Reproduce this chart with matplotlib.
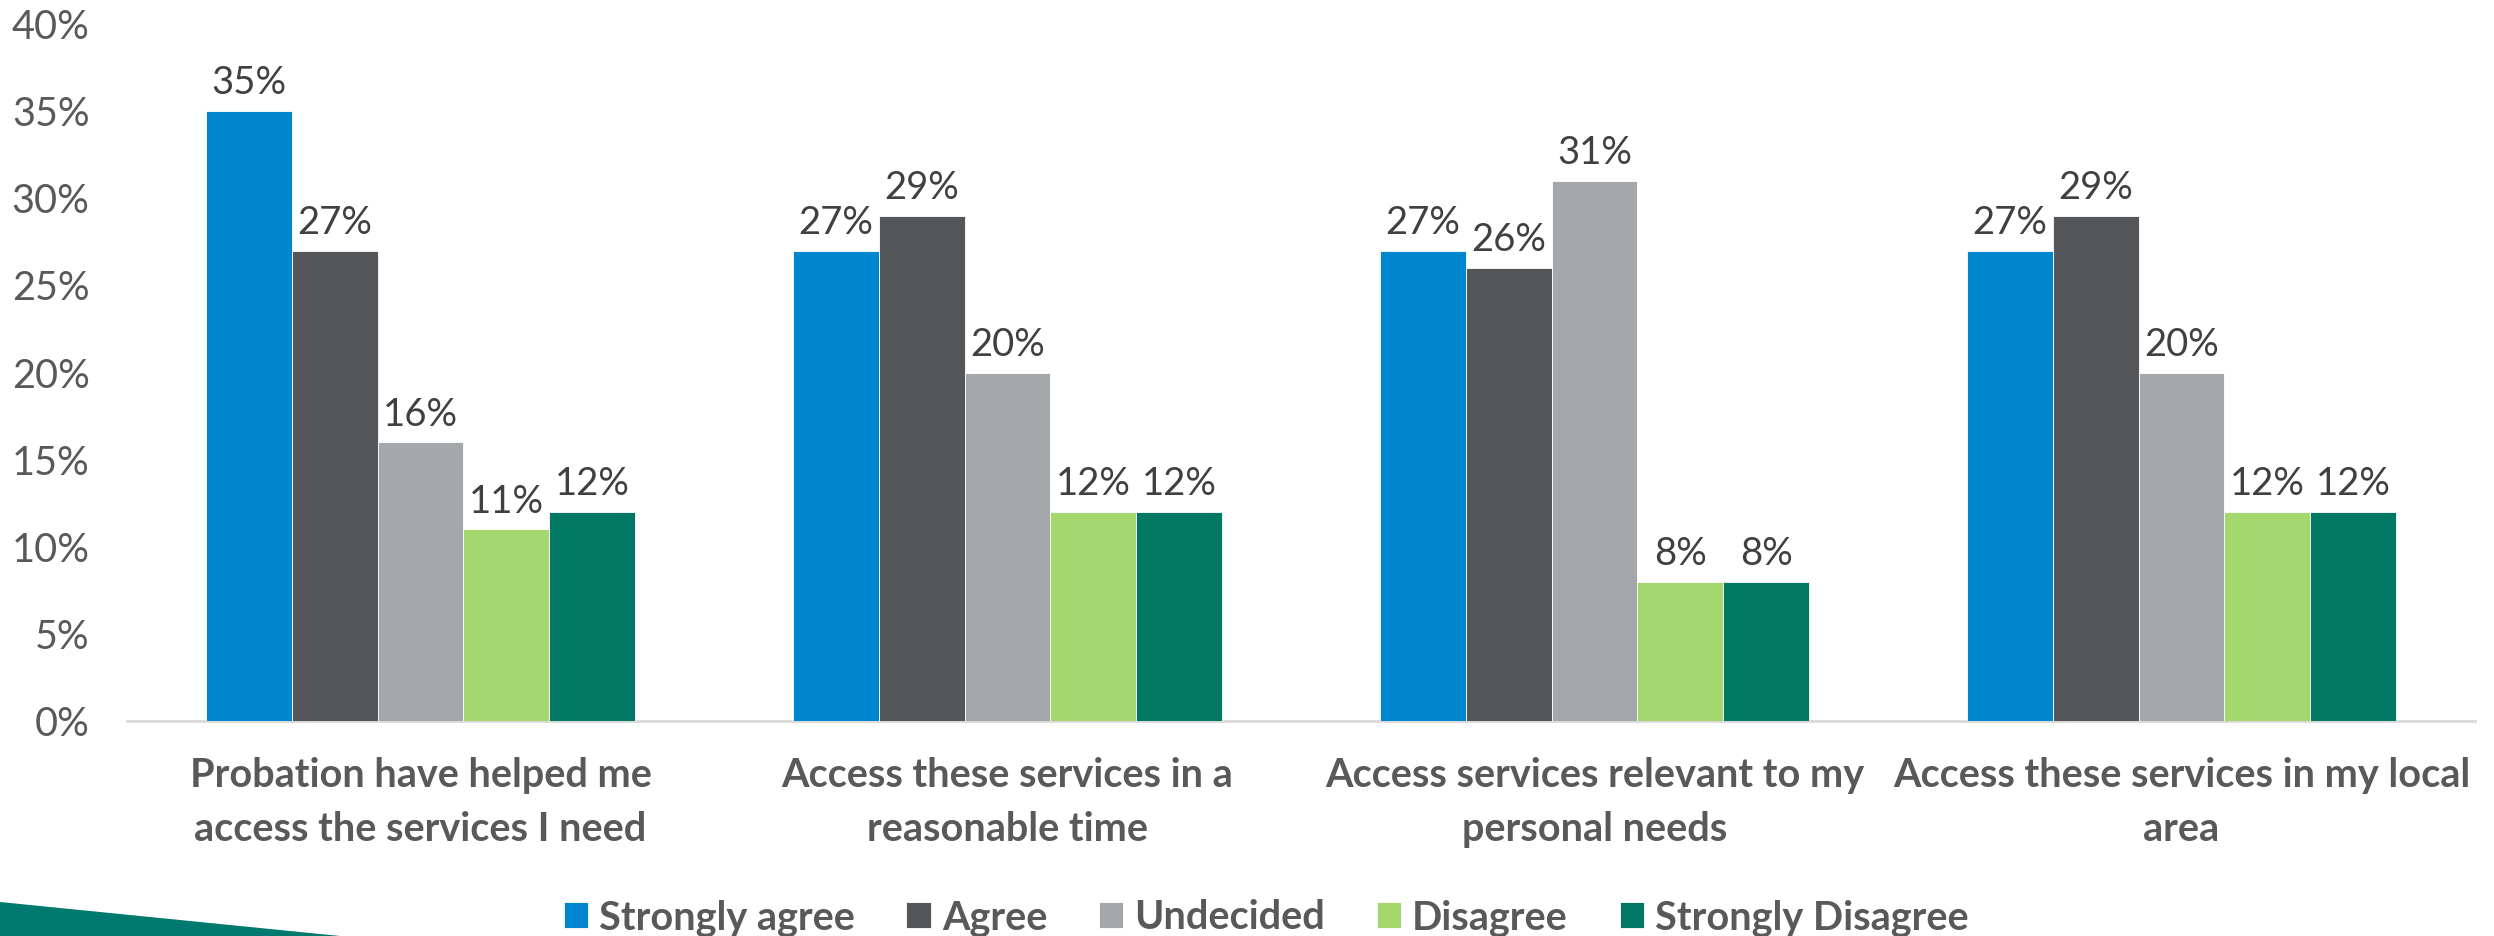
import matplotlib
matplotlib.use("Agg")
import matplotlib.pyplot as plt
from matplotlib.patches import Polygon
import numpy as np

plt.rcParams["font.family"] = ["Lato", "DejaVu Sans"]

# Survey data
categories = [
    "Probation have helped me\naccess the services I need",
    "Access these services in a\nreasonable time",
    "Access services relevant to my\npersonal needs",
    "Access these services in my local\narea",
]
responses = ["Strongly agree", "Agree", "Undecided", "Disagree", "Strongly Disagree"]
strongly_agree = [35, 27, 27, 27]
agree = [27, 29, 26, 29]
undecided = [16, 20, 31, 20]
disagree = [11, 12, 8, 12]
strongly_disagree = [12, 12, 8, 12]
series = [strongly_agree, agree, undecided, disagree, strongly_disagree]
colors = ["#0086CF", "#55565A", "#A5A8AA", "#A4D86E", "#007864"]

W, H, DPI = 2494, 936, 100
fig = plt.figure(figsize=(W / DPI, H / DPI), dpi=DPI)

ax = fig.add_axes([127 / W, 1 - 721 / H, (2475 - 127) / W, (721 - 24) / H])

x = np.arange(len(categories))
n = len(series)
bw = 0.1465
for i, (vals, col, name) in enumerate(zip(series, colors, responses)):
    pos = x + (i - (n - 1) / 2) * bw
    frac = np.array(vals) / 100.0
    ax.bar(pos, frac, width=bw, color=col, edgecolor="white", linewidth=0.6,
           label=name, zorder=2)
    for px, v in zip(pos, vals):
        ax.annotate(f"{v}%", xy=(px, v / 100.0), xytext=(0, 12),
                    textcoords="offset points", ha="center", va="baseline",
                    fontsize=27.5, color="#404040")

ax.set_xlim(-0.5, len(categories) - 0.5)
ax.set_ylim(0, 0.40)
ticks = np.arange(0, 0.401, 0.05)
ax.set_yticks(ticks)
ax.set_yticklabels([f"{int(round(t * 100))}%" for t in ticks])
ax.set_xticks(x)
ax.set_xticklabels(categories, fontsize=28.5, fontweight="bold", color="#595959",
                   linespacing=1.55)
ax.tick_params(axis="y", length=0, pad=27, labelsize=28.5, labelcolor="#595959")
ax.tick_params(axis="x", length=0, pad=26)

for s in ["top", "right", "left"]:
    ax.spines[s].set_visible(False)
ax.spines["bottom"].set_color("#D9D9D9")
ax.spines["bottom"].set_linewidth(2)
ax.spines["bottom"].set_zorder(1)

leg = fig.legend(loc="center", bbox_to_anchor=(1266 / W, 1 - 918 / H), ncol=5,
                 frameon=False, handlelength=0.61, handleheight=0.63,
                 handletextpad=0.28, columnspacing=1.31, borderpad=0,
                 prop={"size": 28.5, "weight": "bold"})
for t in leg.get_texts():
    t.set_color("#595959")

# Teal corner band
band = Polygon([[0, 0], [0, 34 / H], [340 / W, 0]], closed=True,
               transform=fig.transFigure, facecolor="#007A6E", edgecolor="none")
fig.patches.append(band)

fig.savefig("out.png", dpi=DPI)
